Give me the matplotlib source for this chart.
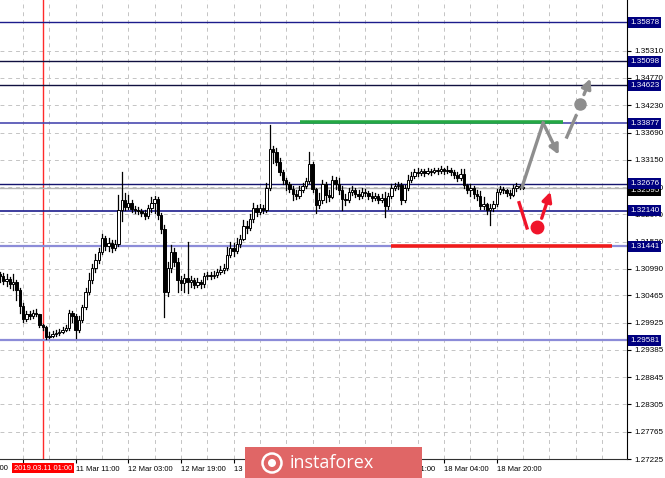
# GBP/USD H1 candles with support / resistance levels and the forecast arrows

import numpy as np
import matplotlib.pyplot as plt
from matplotlib.patches import Rectangle, Ellipse

plt.rcParams['font.family'] = ['Liberation Sans', 'DejaVu Sans']

# Hourly candles, bar 0 = 10 Mar 19:00, first bar on screen is bar -7
firstBar = -7
firstOpen = 1.3089

closes = [1.3085, 1.3075, 1.3079, 1.3069, 1.3073, 1.3057, 1.3026, 1.3000, 1.3010, 1.3006,
          1.3012, 1.3010, 1.2988, 1.2984, 1.2964, 1.2966, 1.2970, 1.2972, 1.2974, 1.2978,
          1.2982, 1.3012, 1.3006, 1.2978, 1.2998, 1.3024, 1.3053, 1.3077, 1.3101, 1.3117,
          1.3132, 1.3160, 1.3144, 1.3150, 1.3140, 1.3148, 1.3216, 1.3235, 1.3221, 1.3229,
          1.3218, 1.3216, 1.3214, 1.3210, 1.3204, 1.3219, 1.3229, 1.3237, 1.3206, 1.3178,
          1.3053, 1.3101, 1.3132, 1.3113, 1.3077, 1.3071, 1.3081, 1.3073, 1.3077, 1.3067,
          1.3073, 1.3069, 1.3085, 1.3087, 1.3085, 1.3087, 1.3093, 1.3097, 1.3101, 1.3127,
          1.3140, 1.3134, 1.3148, 1.3158, 1.3184, 1.3180, 1.3198, 1.3219, 1.3212, 1.3219,
          1.3216, 1.3259, 1.3336, 1.3330, 1.3311, 1.3291, 1.3275, 1.3267, 1.3257, 1.3247,
          1.3243, 1.3255, 1.3263, 1.3273, 1.3307, 1.3257, 1.3225, 1.3235, 1.3267, 1.3245,
          1.3241, 1.3275, 1.3267, 1.3255, 1.3237, 1.3235, 1.3251, 1.3255, 1.3247, 1.3243,
          1.3251, 1.3249, 1.3243, 1.3239, 1.3243, 1.3235, 1.3239, 1.3223, 1.3243, 1.3259,
          1.3263, 1.3265, 1.3235, 1.3259, 1.3275, 1.3283, 1.3291, 1.3289, 1.3293, 1.3289,
          1.3293, 1.3291, 1.3295, 1.3293, 1.3297, 1.3293, 1.3295, 1.3291, 1.3285, 1.3279,
          1.3287, 1.3265, 1.3255, 1.3259, 1.3247, 1.3243, 1.3223, 1.3227, 1.3216, 1.3219,
          1.3227, 1.3251, 1.3257, 1.3255, 1.3249, 1.3245, 1.3259, 1.3263, 1.3261, 1.3259]

highs = [1.3093, 1.3091, 1.3089, 1.3083, 1.3089, 1.3077, 1.3061, 1.3031, 1.3016, 1.3016,
         1.3018, 1.3020, 1.2994, 1.2990, 1.2986, 1.2974, 1.2976, 1.2978, 1.2980, 1.2984,
         1.2988, 1.3018, 1.3016, 1.3010, 1.3006, 1.3028, 1.3061, 1.3091, 1.3109, 1.3128,
         1.3140, 1.3168, 1.3164, 1.3160, 1.3156, 1.3156, 1.3245, 1.3291, 1.3249, 1.3245,
         1.3235, 1.3223, 1.3221, 1.3218, 1.3216, 1.3225, 1.3241, 1.3243, 1.3241, 1.3210,
         1.3186, 1.3113, 1.3146, 1.3140, 1.3120, 1.3085, 1.3089, 1.3152, 1.3085, 1.3081,
         1.3081, 1.3077, 1.3091, 1.3093, 1.3093, 1.3095, 1.3099, 1.3105, 1.3109, 1.3142,
         1.3152, 1.3150, 1.3160, 1.3166, 1.3196, 1.3194, 1.3208, 1.3229, 1.3225, 1.3227,
         1.3225, 1.3269, 1.3384, 1.3342, 1.3338, 1.3319, 1.3295, 1.3279, 1.3271, 1.3263,
         1.3255, 1.3263, 1.3269, 1.3279, 1.3331, 1.3311, 1.3259, 1.3249, 1.3275, 1.3271,
         1.3255, 1.3283, 1.3281, 1.3279, 1.3263, 1.3247, 1.3259, 1.3263, 1.3259, 1.3255,
         1.3259, 1.3257, 1.3253, 1.3251, 1.3249, 1.3247, 1.3247, 1.3251, 1.3249, 1.3267,
         1.3269, 1.3271, 1.3269, 1.3265, 1.3285, 1.3291, 1.3297, 1.3299, 1.3297, 1.3297,
         1.3299, 1.3297, 1.3299, 1.3299, 1.3303, 1.3299, 1.3303, 1.3299, 1.3295, 1.3291,
         1.3297, 1.3297, 1.3267, 1.3267, 1.3263, 1.3255, 1.3253, 1.3241, 1.3229, 1.3227,
         1.3233, 1.3257, 1.3263, 1.3261, 1.3257, 1.3255, 1.3265, 1.3269, 1.3265, 1.3265]

lows = [1.3073, 1.3069, 1.3065, 1.3061, 1.3057, 1.3037, 1.3012, 1.2994, 1.2996, 1.3000,
        1.3002, 1.3006, 1.2984, 1.2978, 1.2960, 1.2962, 1.2964, 1.2966, 1.2968, 1.2972,
        1.2976, 1.2978, 1.2994, 1.2962, 1.2974, 1.2994, 1.3020, 1.3049, 1.3071, 1.3093,
        1.3111, 1.3128, 1.3136, 1.3134, 1.3132, 1.3136, 1.3144, 1.3194, 1.3216, 1.3218,
        1.3212, 1.3210, 1.3208, 1.3204, 1.3198, 1.3200, 1.3212, 1.3210, 1.3198, 1.3170,
        1.3004, 1.3045, 1.3093, 1.3105, 1.3053, 1.3057, 1.3053, 1.3051, 1.3063, 1.3061,
        1.3063, 1.3061, 1.3063, 1.3079, 1.3079, 1.3081, 1.3083, 1.3089, 1.3091, 1.3097,
        1.3122, 1.3124, 1.3130, 1.3142, 1.3156, 1.3170, 1.3176, 1.3192, 1.3204, 1.3208,
        1.3210, 1.3212, 1.3255, 1.3309, 1.3305, 1.3285, 1.3267, 1.3255, 1.3251, 1.3235,
        1.3237, 1.3239, 1.3251, 1.3259, 1.3269, 1.3251, 1.3210, 1.3219, 1.3229, 1.3231,
        1.3233, 1.3239, 1.3257, 1.3247, 1.3216, 1.3225, 1.3231, 1.3245, 1.3241, 1.3237,
        1.3239, 1.3243, 1.3237, 1.3233, 1.3235, 1.3229, 1.3231, 1.3202, 1.3218, 1.3239,
        1.3255, 1.3257, 1.3227, 1.3231, 1.3255, 1.3271, 1.3279, 1.3283, 1.3285, 1.3283,
        1.3287, 1.3285, 1.3289, 1.3287, 1.3289, 1.3287, 1.3289, 1.3285, 1.3279, 1.3273,
        1.3275, 1.3259, 1.3249, 1.3243, 1.3239, 1.3235, 1.3218, 1.3218, 1.3208, 1.3186,
        1.3214, 1.3223, 1.3247, 1.3249, 1.3243, 1.3239, 1.3243, 1.3253, 1.3257, 1.3257]

# Levels marked on the price scale
levels = [1.35878, 1.35098, 1.34623, 1.33877, 1.32676, 1.32140, 1.31441, 1.29581]
levelColors = ['#1c1c8c', '#101040', '#101040', '#4a4ab0', '#14146e', '#1c1c8c', '#8c8cd8', '#8c8cd8']
levelWidths = [1, 1, 1, 1.2, 1, 1.2, 1.6, 1.6]
currentPrice = 1.32595

gridPrices = [1.35310, 1.34770, 1.34230, 1.33690, 1.33150, 1.32610, 1.32070, 1.31530,
              1.30990, 1.30465, 1.29925, 1.29385, 1.28845, 1.28305, 1.27765, 1.27225]

# time scale (labels under the date marker and the watermark are hidden in the picture)
timeTicks = [0, 16, 32, 48, 64, 80, 96, 112, 128, 144]
timeLabels = ['', '11 Mar 11:00', '12 Mar 03:00', '12 Mar 19:00', '13 Mar 11:00',
              '', '', '15 Mar 11:00', '18 Mar 04:00', '18 Mar 20:00']
markedBar = 6   # 2019.03.11 01:00

# Forecast drawings (bar, price)
greenLine = ([84.2, 164.1], [1.3390, 1.3390])
redLine = ([111.9, 179.0], [1.31441, 1.31441])
grayPath = ([151.7, 158.1, 163.2], [1.3261, 1.3388, 1.3320])
grayDash = ([165.3, 168.1], [1.3360, 1.3402])
grayDot = (169.3, 1.3426)
grayArrow = ([170.2, 172.8], [1.3439, 1.3481])
redPath = ([150.8, 153.2], [1.3230, 1.3180])
redDot = (156.2, 1.3182)
redArrow = ([157.4, 160.6], [1.3194, 1.3257])

W, H = 665, 478
fig = plt.figure(figsize=(W / 100, H / 100), dpi=100)
ax = fig.add_axes([0, 19 / H, 627 / W, 459 / H])
ax.set_xlim(-7.0, 183.6)
ax.set_ylim(1.27225, 1.36314)

# grid
for p in gridPrices:
    ax.axhline(p, color='#c4c4c4', lw=0.7, dashes=(4, 4), zorder=0)
for b in range(-8, 184, 8):
    ax.axvline(b, color='#c4c4c4', lw=0.7, dashes=(4, 4), zorder=0)

ax.axvline(markedBar, color='#ff2a2a', lw=1, zorder=1)

# levels
for lvl, col, lw in zip(levels, levelColors, levelWidths):
    ax.axhline(lvl, color=col, lw=lw, zorder=1)
ax.axhline(currentPrice, color='#b4b4b4', lw=1, zorder=1)

# candles
bars = np.arange(firstBar, firstBar + len(closes))
opens = [firstOpen] + closes[:-1]
for b, o, c, h, l in zip(bars, opens, closes, highs, lows):
    top = max(h, o, c)
    bot = min(l, o, c)
    ax.plot([b, b], [bot, top], color='black', lw=0.9, zorder=2)
    col = 'white' if c >= o else 'black'
    ax.bar(b, c - o, bottom=o, width=0.72, color=col, edgecolor='black', lw=0.7, zorder=3)

# forecast lines and arrows
ax.plot(*greenLine, color='#25a844', lw=2.6, zorder=4, solid_capstyle='butt')
ax.plot(*redLine, color='#f01c1c', lw=2.6, zorder=4, solid_capstyle='butt')

gray = '#8e8e8e'
ax.plot(grayPath[0][:2], grayPath[1][:2], color=gray, lw=2.4, zorder=5)
ax.annotate('', xy=(grayPath[0][2], grayPath[1][2]), xytext=(grayPath[0][1], grayPath[1][1]),
            arrowprops=dict(arrowstyle='-|>', color=gray, lw=2.4, mutation_scale=14), zorder=5)
ax.plot(*grayDash, color=gray, lw=2.4, zorder=5)
ax.plot(*grayDot, 'o', color=gray, ms=8, zorder=5)
ax.annotate('', xy=(grayArrow[0][1], grayArrow[1][1]), xytext=(grayArrow[0][0], grayArrow[1][0]),
            arrowprops=dict(arrowstyle='-|>', color=gray, lw=2.4, mutation_scale=14), zorder=5)

red = '#f0142a'
ax.plot(*redPath, color=red, lw=2.4, zorder=5)
ax.plot(*redDot, 'o', color=red, ms=9, zorder=5)
ax.annotate('', xy=(redArrow[0][1], redArrow[1][1]), xytext=(redArrow[0][0], redArrow[1][0]),
            arrowprops=dict(arrowstyle='-|>', color=red, lw=2.4, mutation_scale=14), zorder=5)

# axes look
for s in ['left', 'top']:
    ax.spines[s].set_visible(False)
ax.spines['right'].set_color('black')
ax.spines['bottom'].set_color('#303030')
ax.yaxis.tick_right()
ax.set_yticks(gridPrices, ['%.5f' % p for p in gridPrices])
ax.tick_params(axis='y', length=3, width=0.8, pad=2, labelsize=5.8)
ax.set_xticks(timeTicks, timeLabels)
ax.tick_params(axis='x', length=3, width=0.8, pad=2, labelsize=5.5)
for lbl in ax.get_xticklabels():
    lbl.set_ha('left')

# level boxes on the price scale
for lvl in levels:
    ax.text(1.0 + 3 / 627, lvl, '%.5f' % lvl, transform=ax.get_yaxis_transform(),
            ha='left', va='center', fontsize=5.8, color='white', clip_on=False, zorder=6,
            bbox=dict(boxstyle='square,pad=0.25', fc='#000080', ec='none'))
ax.text(1.0 + 3 / 627, currentPrice - 0.0006, '%.5f' % currentPrice, transform=ax.get_yaxis_transform(),
        ha='left', va='center', fontsize=5.8, color='white', clip_on=False, zorder=5.5,
        bbox=dict(boxstyle='square,pad=0.25', fc='black', ec='none'))

# cut-off label at the left and the date marker
fig.text(8 / W, 10 / H, '8 Mar 11:00', ha='right', va='center', fontsize=5.5)
fig.text(43 / W, 10 / H, '2019.03.11 01:00', ha='center', va='center', fontsize=5.5, color='white',
         bbox=dict(boxstyle='square,pad=0.25', fc='#ff0000', ec='none'))

# watermark
fig.add_artist(Rectangle((245 / W, 0), 177 / W, 31 / H, transform=fig.transFigure,
                         fc='#e06666', ec='none', zorder=10))
fig.add_artist(Ellipse((272 / W, 15 / H), 19 / W, 19 / H, transform=fig.transFigure,
                       fc='none', ec='white', lw=1.8, zorder=11))
fig.add_artist(Ellipse((272 / W, 15 / H), 8 / W, 8 / H, transform=fig.transFigure,
                       fc='white', ec='none', zorder=11))
fig.text(290 / W, 15 / H, 'instaforex', ha='left', va='center', fontsize=13, color='white',
         family='Open Sans', zorder=12)

fig.savefig('out.png', dpi=100)
